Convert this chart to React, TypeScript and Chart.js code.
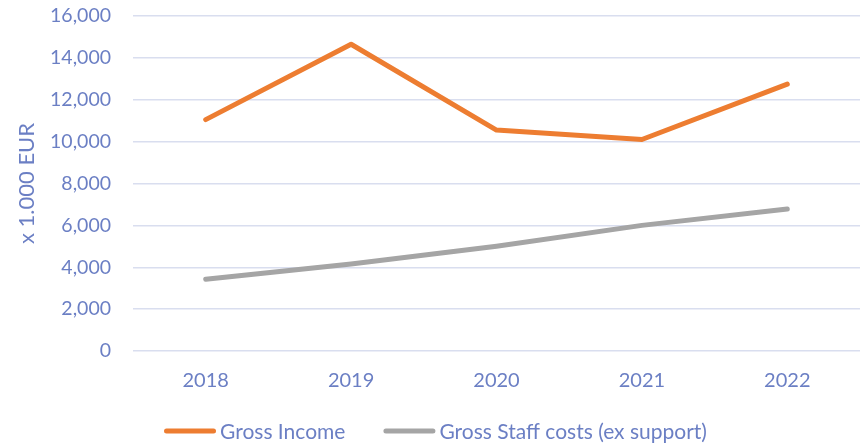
import React, { useEffect, useRef } from "react";
import { Chart, registerables } from "chart.js";

Chart.register(...registerables);

const categories = ["2018", "2019", "2020", "2021", "2022"];
const grossIncome = [11050, 14650, 10550, 10100, 12750];
const grossStaffCosts = [3430, 4150, 5000, 6000, 6780];
const yTicks = [0, 2000, 4000, 6000, 8000, 10000, 12000, 14000, 16000];

const TEXT = "#6b7fc4";
const FONT = "Lato";

const lineLegend = {
  id: "lineLegend",
  afterDraw(chart: any) {
    const ctx = chart.ctx;
    const size = 21;
    const lineW = 52;
    const gap = 4;
    const itemGap = 38;
    const y = 431;
    ctx.save();
    ctx.font = `${size}px ${FONT}`;
    const items = chart.data.datasets.map((d: any) => ({
      label: d.label,
      color: d.borderColor,
      w: ctx.measureText(d.label).width,
    }));
    const total =
      items.reduce((a: number, it: any) => a + lineW + gap + it.w, 0) +
      itemGap * (items.length - 1);
    let x = chart.width / 2 + 4 - total / 2;
    ctx.textBaseline = "middle";
    ctx.textAlign = "left";
    for (const it of items) {
      ctx.strokeStyle = it.color;
      ctx.lineWidth = 5;
      ctx.lineCap = "round";
      ctx.beginPath();
      ctx.moveTo(x + 2.5, y);
      ctx.lineTo(x + lineW - 2.5, y);
      ctx.stroke();
      ctx.fillStyle = TEXT;
      ctx.fillText(it.label, x + lineW + gap, y + 1);
      x += lineW + gap + it.w + itemGap;
    }
    ctx.restore();
  },
};

export default function App() {
  const ref = useRef<HTMLCanvasElement>(null);
  useEffect(() => {
    document.body.style.margin = "0";
    const chart = new Chart(ref.current!, {
      type: "line",
      data: {
        labels: categories,
        datasets: [
          {
            label: "Gross Income",
            data: grossIncome,
            borderColor: "#ed7d31",
            backgroundColor: "#ed7d31",
            borderWidth: 5,
            borderCapStyle: "round",
            borderJoinStyle: "round",
            pointRadius: 0,
            tension: 0,
          },
          {
            label: "Gross Staff costs (ex support)",
            data: grossStaffCosts,
            borderColor: "#a5a5a5",
            backgroundColor: "#a5a5a5",
            borderWidth: 5,
            borderCapStyle: "round",
            borderJoinStyle: "round",
            pointRadius: 0,
            tension: 0,
          },
        ],
      },
      plugins: [lineLegend],
      options: {
        animation: false,
        responsive: false,
        maintainAspectRatio: false,
        layout: { padding: { left: 14, right: 3, top: 16, bottom: 41 } },
        plugins: {
          tooltip: { enabled: false },
          legend: { display: false },
        },
        scales: {
          x: {
            offset: true,
            grid: { display: false },
            border: { display: false },
            ticks: { color: TEXT, font: { family: FONT, size: 20 }, padding: 10 },
          },
          y: {
            min: 0,
            max: 16000,
            afterBuildTicks: (s: any) => {
              s.ticks = yTicks.map((v) => ({ value: v }));
            },
            afterFit: (s: any) => {
              s.width = 119;
            },
            grid: {
              color: "#d9deef",
              lineWidth: 1.5,
              drawTicks: true,
              tickLength: 22,
              tickColor: "rgba(0,0,0,0)",
            },
            border: { display: false },
            ticks: {
              color: TEXT,
              font: { family: FONT, size: 19.5 },
              padding: 0,
              callback: (v: any) => Number(v).toLocaleString("en-US"),
            },
            title: {
              display: true,
              text: "x 1.000 EUR",
              color: TEXT,
              font: { family: FONT, size: 22 },
              padding: 0,
            },
          },
        },
      },
    });
    return () => chart.destroy();
  }, []);
  return (
    <div style={{ width: 863, height: 444 }}>
      <canvas ref={ref} width={863} height={444} />
    </div>
  );
}
